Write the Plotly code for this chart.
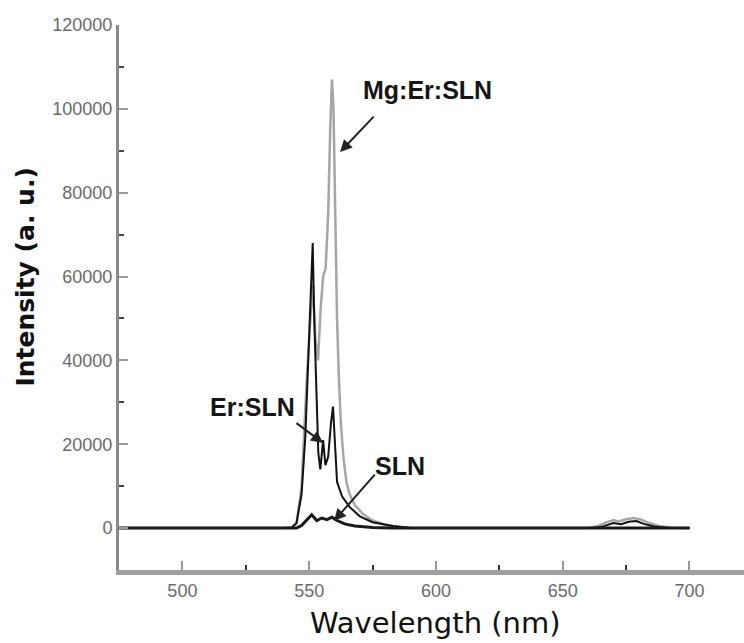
import plotly.graph_objects as go

# Emission spectra (wavelength in nm, intensity in a.u.)
wl_mg = [475, 540, 543, 545, 547, 549, 550.5, 551.5, 552.5, 553.5, 554.5, 555.5, 556.5,
         557.5, 558.3, 559.0, 559.6, 560.3, 561.0, 561.7, 562.5, 563.5, 564.7, 566,
         568, 571, 575, 580, 585, 590,
         660, 664, 667, 670, 672, 675, 678, 681, 684, 688, 693, 700]
int_mg = [0, 0, 200, 1000, 10000, 35000, 50000, 58000, 45000, 40000, 52000, 60000, 62000,
          75000, 95000, 107000, 100000, 75000, 50000, 36000, 25000, 17000, 11000, 8000,
          5500, 3500, 1800, 800, 300, 0,
          0, 500, 1300, 1900, 1600, 2100, 2400, 2000, 1200, 500, 100, 0]

wl_er = [475, 543, 545, 547, 548.5, 549.5, 550.5, 551.4, 552.0, 552.8, 553.6, 554.4,
         555.5, 556.4, 557.5, 558.6, 559.4, 560.2, 561.0, 563, 566, 570, 575, 583, 590,
         662, 666, 670, 673, 676, 679, 682, 686, 692, 700]
int_er = [0, 0, 1200, 8000, 22000, 38000, 55000, 68000, 50000, 32000, 18000, 14000,
          21000, 15000, 17000, 25000, 29000, 20000, 11000, 7500, 5000, 2800, 1400, 500, 0,
          0, 400, 1200, 900, 1500, 1700, 1000, 400, 0, 0]

wl_sln = [475, 545, 547, 549, 551, 553, 555, 557, 559, 561, 564, 568, 575, 582, 700]
int_sln = [0, 0, 600, 1800, 3200, 1800, 2400, 2000, 2600, 1800, 1000, 500, 150, 0, 0]

x_ticks = [500, 550, 600, 650, 700]
x_minor = [525, 575, 625, 675, 725]
y_ticks = [0, 20000, 40000, 60000, 80000, 100000, 120000]
y_minor = [10000, 30000, 50000, 70000, 90000, 110000]

# Labels: (text, text position, arrow tail, arrow head) in data units
labels = [
    ("Mg:Er:SLN", (596.5, 104500), (576.0, 98500), (562.2, 89700)),
    ("Er:SLN", (527.8, 28900), (544.4, 25300), (555.5, 20300)),
    ("SLN", (585.8, 14800), (576.4, 13100), (559.8, 1700)),
]

FONT = "Liberation Sans, Arial, sans-serif"
WIDE = "DejaVu Sans, sans-serif"

fig = go.Figure()
fig.add_trace(go.Scatter(x=wl_mg, y=int_mg, mode="lines",
                         line=dict(color="#a6a6a6", width=2.5), name="Mg:Er:SLN"))
fig.add_trace(go.Scatter(x=wl_er, y=int_er, mode="lines",
                         line=dict(color="#111111", width=2), name="Er:SLN"))
fig.add_trace(go.Scatter(x=wl_sln, y=int_sln, mode="lines",
                         line=dict(color="#1a1a1a", width=3), name="SLN"))

annotations = []
for text, (tx, ty), (ax, ay), (hx, hy) in labels:
    annotations.append(dict(x=tx, y=ty, xref="x", yref="y", text="<b>%s</b>" % text,
                            showarrow=False, xanchor="center", yanchor="middle",
                            font=dict(family=FONT, size=25, color="#151515")))
    annotations.append(dict(x=hx, y=hy, xref="x", yref="y", ax=ax, ay=ay,
                            axref="x", ayref="y", text="", showarrow=True,
                            arrowhead=2, arrowsize=1.2, arrowwidth=2,
                            arrowcolor="#222222", standoff=0, startstandoff=0))

# Axis titles
annotations.append(dict(x=-0.150, y=0.537, xref="paper", yref="paper",
                        text="<b>Intensity (a. u.)</b>", textangle=-90, showarrow=False,
                        xanchor="center", yanchor="middle",
                        font=dict(family=WIDE, size=25, color="#111111")))
annotations.append(dict(x=0.507, y=-0.098, xref="paper", yref="paper",
                        text="Wavelength (nm)", showarrow=False,
                        xanchor="center", yanchor="middle",
                        font=dict(family=WIDE, size=29, color="#111111")))

fig.update_layout(
    width=744, height=643,
    margin=dict(l=119, r=0, t=25, b=73),
    paper_bgcolor="white", plot_bgcolor="white",
    showlegend=False,
    annotations=annotations,
    xaxis=dict(range=[475, 721.5], tickvals=x_ticks, ticktext=[str(v) for v in x_ticks],
               ticks="inside", ticklen=9, tickwidth=2, tickcolor="#999999",
               showline=True, linecolor="#a0a0a0", linewidth=5,
               showgrid=False, zeroline=False,
               minor=dict(tickvals=x_minor, ticks="inside",
                          ticklen=5, tickwidth=2, tickcolor="#333333"),
               tickfont=dict(family=FONT, size=18, color="#6a6a6a")),
    yaxis=dict(range=[-10000, 120000], tickvals=y_ticks, ticktext=[str(v) for v in y_ticks],
               ticks="inside", ticklen=9, tickwidth=2, tickcolor="#999999",
               showline=True, linecolor="#8a8a8a", linewidth=3,
               showgrid=False, zeroline=False,
               minor=dict(tickvals=y_minor, ticks="inside",
                          ticklen=5, tickwidth=2, tickcolor="#444444"),
               tickfont=dict(family=FONT, size=18, color="#6a6a6a")),
)

fig.write_html("out.html")
